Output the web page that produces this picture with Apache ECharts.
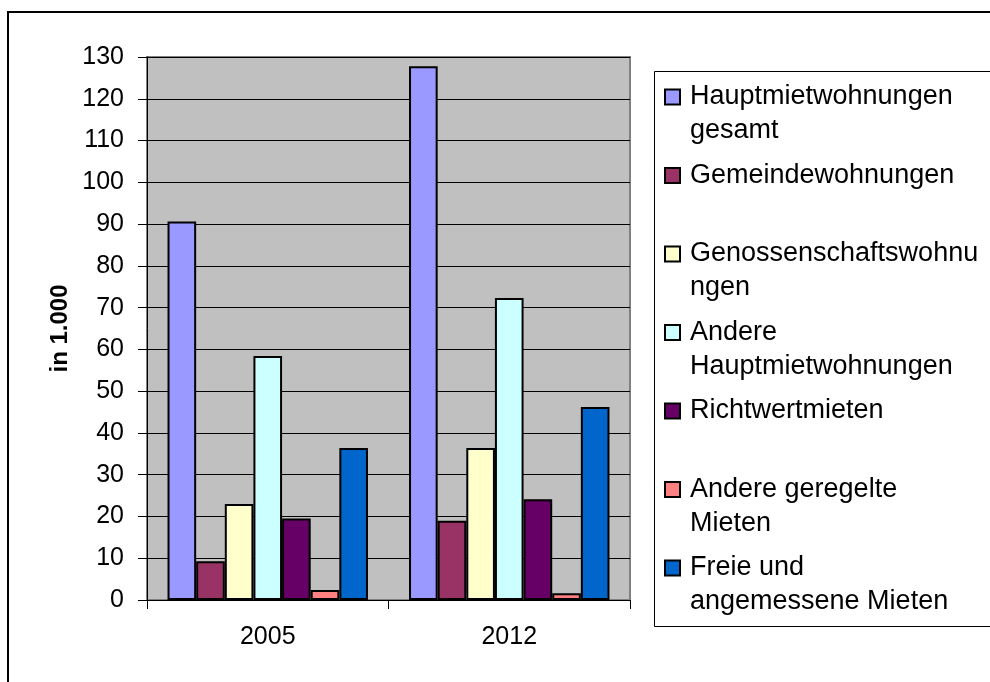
<!DOCTYPE html>
<html>
<head>
<meta charset="utf-8">
<script src="https://cdn.jsdelivr.net/npm/echarts@6/dist/echarts.min.js"></script>
<style>html,body{margin:0;padding:0;background:#fff}#c{width:990px;height:682px}</style>
</head>
<body>
<div id="c"></div>
<script>
const categories = ['2005', '2012'];
const seriesNames = ['Hauptmietwohnungen gesamt', 'Gemeindewohnungen', 'Genossenschaftswohnungen', 'Andere Hauptmietwohnungen', 'Richtwertmieten', 'Andere geregelte Mieten', 'Freie und angemessene Mieten'];
const legendLabels = ['Hauptmietwohnungen\ngesamt', 'Gemeindewohnungen', 'Genossenschaftswohnu\nngen', 'Andere\nHauptmietwohnungen', 'Richtwertmieten', 'Andere geregelte\nMieten', 'Freie und\nangemessene Mieten'];
const hauptmietGesamt = [90.6, 127.8];
const gemeinde = [9.3, 19.0];
const genossenschaft = [23.0, 36.4];
const andereHauptmiet = [58.4, 72.3];
const richtwert = [19.5, 24.1];
const andereGeregelt = [2.4, 1.6];
const freie = [36.4, 46.2];
const seriesData = [hauptmietGesamt, gemeinde, genossenschaft, andereHauptmiet, richtwert, andereGeregelt, freie];
const colors = ['#9999FF', '#993366', '#FFFFCC', '#CCFFFF', '#660066', '#FF8080', '#0066CC'];
const yTicks = {min: 0, max: 130, interval: 10};

const FONT = '"Liberation Sans", Arial, sans-serif';
const chart = echarts.init(document.getElementById('c'), null, {renderer: 'canvas'});

const LH = 34;
const legends = seriesNames.map((name, i) => {
  const label = legendLabels[i];
  const nLines = label.split('\n').length;
  // pad with leading blank lines so the first text line is centred on the icon
  const text = (nLines > 1 ? ' \n'.repeat(nLines - 1) : '') + label;
  const totalLines = 2 * nLines - 1;
  const centerY = 97 + 78.5 * i;
  const blockH = totalLines * LH;
  return {
    data: [name],
    orient: 'vertical',
    left: 664,
    top: centerY - blockH / 2,
    padding: 0,
    itemWidth: 15,
    itemHeight: 15,
    icon: 'rect',
    selectedMode: false,
    formatter: () => text,
    textStyle: {
      fontSize: 27, fontFamily: FONT, color: '#000', lineHeight: LH,
      padding: [0, 0, 0, 5]
    }
  };
});

chart.setOption({
  animation: false,
  backgroundColor: '#fff',
  color: colors,
  textStyle: {fontFamily: FONT},
  grid: {
    left: 147, right: 360, top: 57, bottom: 82,
    show: true, backgroundColor: '#C0C0C0', borderColor: '#808080', borderWidth: 2
  },
  legend: legends,
  xAxis: {
    type: 'category',
    data: categories,
    axisLine: {lineStyle: {color: '#000', width: 1}},
    axisTick: {show: true, length: 9, lineStyle: {color: '#000'}},
    axisLabel: {fontSize: 25, color: '#000', fontFamily: FONT, margin: 25},
    splitLine: {show: false}
  },
  yAxis: {
    type: 'value',
    min: yTicks.min, max: yTicks.max, interval: yTicks.interval,
    name: 'in 1.000',
    nameLocation: 'middle',
    nameGap: 75,
    nameTextStyle: {fontSize: 24, fontWeight: 'bold', color: '#000', fontFamily: FONT},
    axisLine: {show: true, lineStyle: {color: '#000', width: 1}},
    axisTick: {show: true, length: 9, lineStyle: {color: '#000'}},
    axisLabel: {fontSize: 25, color: '#000', fontFamily: FONT, margin: 23},
    splitLine: {show: true, lineStyle: {color: '#000', width: 1}}
  },
  series: seriesNames.map((name, i) => ({
    name: name,
    type: 'bar',
    data: seriesData[i],
    barGap: '0%',
    barCategoryGap: '17%',
    itemStyle: {color: colors[i], borderColor: '#000', borderWidth: 2}
  })),
  graphic: [
    {type: 'rect', shape: {x: 8, y: 12, width: 1200, height: 1000}, style: {fill: 'none', stroke: '#000', lineWidth: 2}, silent: true, z: 100},
    {type: 'rect', shape: {x: 654.5, y: 71.5, width: 600, height: 555}, style: {fill: 'none', stroke: '#000', lineWidth: 1}, silent: true, z: 100}
  ]
});
</script>
</body>
</html>
